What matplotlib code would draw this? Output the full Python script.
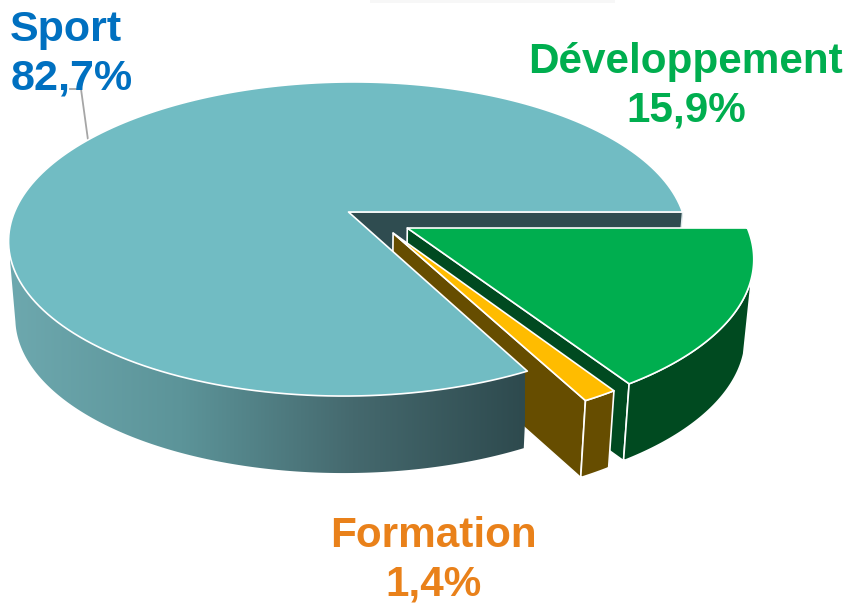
import numpy as np
import matplotlib.pyplot as plt
from matplotlib.colors import LinearSegmentedColormap
from matplotlib.patches import Polygon

labels = ["Sport", "Formation", "Développement"]
values = [82.7, 1.4, 15.9]
value_labels = ["82,7%", "1,4%", "15,9%"]

# pie geometry in image pixels
CX, CY = 348.5, 212
RX, RY = 334, 152.4
PERSP = 0.172
SHEAR = 5
DEPTH = 77
SHRINK = 0.98

offsets = [(0.0, 0.0), (0.1324, -0.135), (0.1745, -0.1032)]
top_colors = ["#71BCC3", "#FFBC00", "#00AE4F"]
side_colors = ["#2F4C50", "#664D00", "#004A20"]
wall_cmap = LinearSegmentedColormap.from_list(
    "wall", ["#6DA8AE", "#5C9499", "#45696E", "#2E4A4E"])


def project(u, v):
    s = 1 + PERSP * v
    return CX + RX * u / s + SHEAR * v, CY - RY * v / s


def drop(x, y):
    return CX + (x - CX) * SHRINK, y + DEPTH


def arc(a0, a1, offset, n=200):
    t = np.radians(np.linspace(a0, a1, n))
    return project(offset[0] + np.cos(t), offset[1] + np.sin(t))


def top_face(a0, a1, offset):
    x, y = arc(a0, a1, offset)
    ax0, ay0 = project(*offset)
    return np.column_stack([np.r_[ax0, x], np.r_[ay0, y]])


def arc_wall(a0, a1, offset):
    x, y = arc(a0, a1, offset)
    bx, by = drop(x, y)
    return np.column_stack([np.r_[x, bx[::-1]], np.r_[y, by[::-1]]])


def cut_wall(angle, offset):
    ax0, ay0 = project(*offset)
    t = np.radians(angle)
    x1, y1 = project(offset[0] + np.cos(t), offset[1] + np.sin(t))
    bx0, by0 = drop(ax0, ay0)
    bx1, by1 = drop(x1, y1)
    return np.array([[ax0, ay0], [x1, y1], [bx1, by1], [bx0, by0]])


def add(ax, pts, color, zorder, lw=1.2):
    ax.add_patch(Polygon(pts, closed=True, facecolor=color, edgecolor="white",
                         linewidth=lw, joinstyle="round", zorder=zorder))


plt.rcParams["font.family"] = ["Liberation Sans", "DejaVu Sans"]
fig = plt.figure(figsize=(8.5, 6.03), dpi=100)
ax = fig.add_axes([0, 0, 1, 1])
ax.set_xlim(0, 850)
ax.set_ylim(603, 0)
ax.axis("off")

# slice angles, counter clockwise from the right
angles = 3.6 * np.cumsum([0] + values)
sport_end = angles[1]
form_end = angles[2]

# painter's order: back cut of sport, green, formation, then sport on top
ax.add_patch(Polygon(cut_wall(0, offsets[0]), closed=True, facecolor=side_colors[0],
                     edgecolor="#DDE8E9", linewidth=1.0, zorder=1))

add(ax, cut_wall(form_end, offsets[2]), side_colors[2], 2)
add(ax, arc_wall(form_end, 343, offsets[2]), side_colors[2], 3)
add(ax, top_face(form_end, 360, offsets[2]), top_colors[2], 4)

add(ax, cut_wall(sport_end, offsets[1]), side_colors[1], 5)
add(ax, arc_wall(sport_end, form_end, offsets[1]), side_colors[1], 6)
add(ax, top_face(sport_end, form_end, offsets[1]), top_colors[1], 7)

# sport front wall with its gradient
wall = arc_wall(192, sport_end, offsets[0])
wall_patch = Polygon(wall, closed=True, facecolor="none", edgecolor="none", zorder=8)
ax.add_patch(wall_patch)
grad = ax.imshow(np.linspace(0, 1, 256).reshape(1, -1), cmap=wall_cmap, aspect="auto",
                 extent=[10, 525, 480, 230], zorder=8)
grad.set_clip_path(wall_patch)
ax.set_xlim(0, 850)
ax.set_ylim(603, 0)
add(ax, top_face(0, sport_end, offsets[0]), top_colors[0], 9)

# leader line of the sport label
ax.plot([70, 81, 88], [89, 89, 140], color="#A6A6A6", lw=1.3, zorder=0.5)

# faint shadow at the upper edge of the picture
ax.fill_between([370, 615], 0, 2.5, color="#F7F7F7", lw=0, zorder=0)

font = dict(fontsize=30.4, fontweight="bold", zorder=10)
sport_font = dict(font, fontsize=31)
ax.text(10, 41, labels[0], color="#0070C0", ha="left", va="baseline", **sport_font)
ax.text(11, 89, value_labels[0], color="#0070C0", ha="left", va="baseline", **sport_font)
ax.text(686, 73, labels[2], color="#00AE4F", ha="center", va="baseline", **font)
ax.text(686, 121, value_labels[2], color="#00AE4F", ha="center", va="baseline", **font)
ax.text(433, 547, labels[1], color="#E9811A", ha="center", va="baseline", **font)
ax.text(434, 595, value_labels[1], color="#E9811A", ha="center", va="baseline", **font)

fig.savefig("out.png", dpi=100)
plt.close(fig)
